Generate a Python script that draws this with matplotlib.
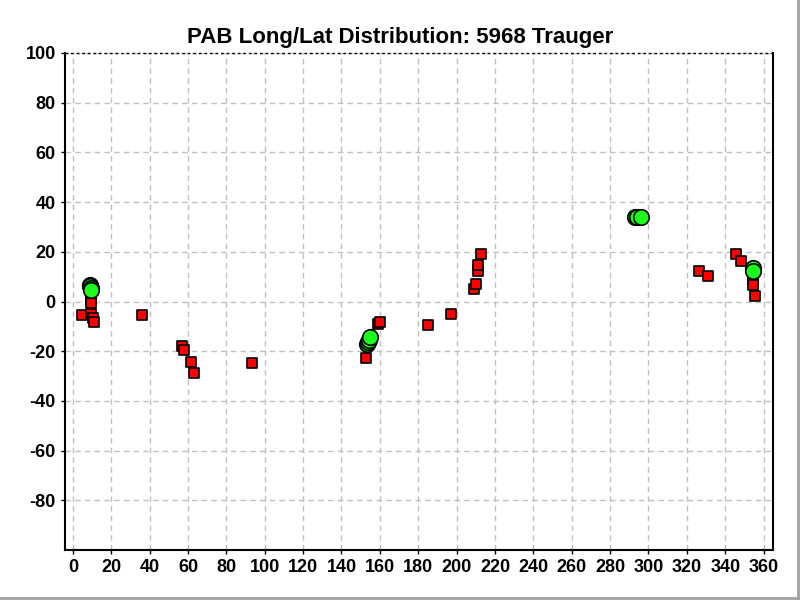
import matplotlib
matplotlib.use("Agg")
import matplotlib.pyplot as plt
from matplotlib.lines import Line2D

# === DATA ===
title = "PAB Long/Lat Distribution: 5968 Trauger"

red_lon = [4.9, 9.7, 9.7, 9.7, 9.7, 10.6, 11.1, 36.1, 56.8, 58.0, 61.6, 63.0, 93.3,
           153.0, 159.1, 160.3, 185.2, 197.1, 209.1, 210.2, 210.9, 210.9, 212.8,
           326.4, 331.0, 345.6, 348.4, 354.5, 354.5, 354.5, 355.6]
red_lat = [-5.6, 1.9, 0.9, -0.5, -5.2, -6.6, -8.2, -5.3, -17.9, -19.4, -24.2, -28.6, -24.9,
           -22.6, -9.2, -8.2, -9.4, -4.9, 5.1, 7.1, 12.2, 14.5, 19.1,
           12.4, 10.3, 19.3, 16.2, 10.5, 8.8, 6.5, 2.1]

green_lon = [8.9, 9.1, 9.4, 9.7, 153.3, 153.7, 154.2, 154.8, 293.0, 294.0, 296.3, 354.5, 354.5]
green_lat = [6.8, 6.1, 5.3, 4.5, -17.2, -16.2, -15.3, -14.3, 34.0, 33.8, 34.0, 13.5, 12.2]

xticks = list(range(0, 361, 20))
yticks = list(range(-80, 101, 20))

# === PLOT ===
plt.rcParams['font.family'] = ['Liberation Sans Narrow', 'Liberation Sans', 'DejaVu Sans']
plt.rcParams['font.weight'] = 'bold'
plt.rcParams['axes.unicode_minus'] = False

fig = plt.figure(figsize=(8, 6), dpi=100)
ax = fig.add_axes([0.081, 0.083, 0.885, 0.829])

ax.scatter(red_lon, red_lat, marker='s', s=52, c='#ff0000', edgecolors='black',
           linewidths=1.2, zorder=3)
ax.scatter(green_lon, green_lat, marker='o', s=125, c='#1cff1c', edgecolors='black',
           linewidths=1.2, zorder=4)

ax.set_xlim(-4.2, 364.8)
ax.set_ylim(-100, 100)
ax.set_xticks(xticks)
ax.set_yticks(yticks)
ax.tick_params(labelsize=13, length=3, width=1)
for lbl in ax.get_xticklabels() + ax.get_yticklabels():
    lbl.set_fontweight('bold')

ax.grid(True, color='#c0c0c0', linestyle=(0, (4, 3)), linewidth=1)
ax.set_axisbelow(True)
ax.spines['top'].set_visible(False)
for side in ['left', 'right', 'bottom']:
    ax.spines[side].set_linewidth(1.5)
# dashed line on top edge like the grid
ax.axhline(100, color='black', linestyle=(0, (2, 2)), linewidth=1, clip_on=False)

fig.text(0.5, 0.937, title, ha='center', va='center', fontsize=16, fontweight='bold')

# thin grey frame on right/bottom edge of the picture
fig.add_artist(Line2D([0.997, 0.997], [0, 1], color='#a0a0a0', linewidth=2, transform=fig.transFigure))
fig.add_artist(Line2D([0, 1], [0.003, 0.003], color='#a0a0a0', linewidth=2, transform=fig.transFigure))

fig.savefig("out.png", dpi=100)
